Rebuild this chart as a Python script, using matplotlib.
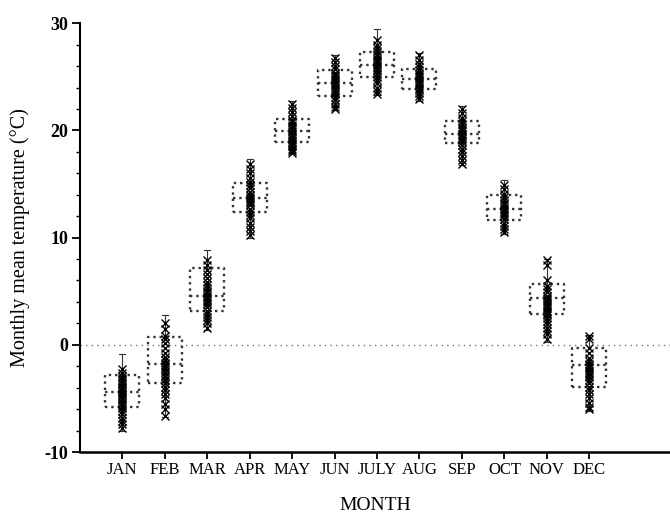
import matplotlib
matplotlib.use("Agg")
import matplotlib.pyplot as plt
from matplotlib.ticker import MultipleLocator

months = ["JAN", "FEB", "MAR", "APR", "MAY", "JUN", "JULY", "AUG", "SEP", "OCT", "NOV", "DEC"]

q1 = [-5.8, -3.6, 3.2, 12.4, 18.9, 23.2, 25.0, 23.9, 18.8, 11.6, 2.9, -3.9]
med = [-4.4, -1.8, 4.6, 13.7, 19.9, 24.4, 26.1, 24.8, 19.7, 12.7, 4.4, -1.9]
q3 = [-2.8, 0.7, 7.2, 15.1, 21.1, 25.6, 27.3, 25.7, 20.9, 14.0, 5.7, -0.3]
whis_lo = [-8.0, -6.7, 1.4, 10.0, 17.9, 21.9, 23.3, 22.7, 16.8, 10.3, 0.3, -6.2]
whis_hi = [-0.9, 2.8, 8.8, 17.3, 22.7, 27.0, 29.5, 27.2, 22.3, 15.4, 8.0, 0.9]

pts_jan = [-2.3, -2.6, -2.9, -3.1, -3.3, -3.5, -3.7, -3.9, -4.0, -4.2, -4.3, -4.5, -4.6,
           -4.8, -5.0, -5.1, -5.3, -5.5, -5.7, -5.9, -6.2, -6.5, -6.8, -7.1, -7.4, -7.8]
pts_feb = [2.0, 1.5, 0.8, 0.5, 0.2, -0.3, -0.8, -1.1, -1.4, -1.7, -1.9, -2.1, -2.3, -2.5,
           -2.8, -3.0, -3.3, -3.6, -3.9, -4.2, -4.6, -5.0, -5.5, -6.0, -6.6]
pts_mar = [7.9, 7.4, 7.0, 6.6, 6.2, 5.9, 5.6, 5.3, 5.0, 4.8, 4.6, 4.4, 4.2, 4.0, 3.8, 3.5,
           3.2, 2.9, 2.6, 2.3, 2.0, 1.6]
pts_apr = [16.9, 16.4, 16.0, 15.6, 15.2, 14.9, 14.6, 14.3, 14.0, 13.8, 13.6, 13.4, 13.2,
           13.0, 12.7, 12.4, 12.1, 11.8, 11.4, 11.0, 10.6, 10.2]
pts_may = [22.5, 22.1, 21.7, 21.3, 21.0, 20.8, 20.5, 20.3, 20.1, 19.9, 19.7, 19.5, 19.3,
           19.1, 18.9, 18.7, 18.5, 18.3, 18.1, 17.9]
pts_jun = [26.8, 26.4, 26.0, 25.7, 25.4, 25.2, 25.0, 24.8, 24.6, 24.4, 24.2, 24.0, 23.8,
           23.6, 23.4, 23.1, 22.8, 22.5, 22.2, 22.0]
pts_jul = [28.4, 28.0, 27.7, 27.4, 27.1, 26.9, 26.7, 26.5, 26.3, 26.1, 25.9, 25.7, 25.5,
           25.3, 25.0, 24.7, 24.4, 24.0, 23.7, 23.4]
pts_aug = [27.0, 26.6, 26.2, 25.9, 25.6, 25.4, 25.2, 25.0, 24.8, 24.6, 24.4, 24.2, 24.0,
           23.8, 23.5, 23.2, 22.9]
pts_sep = [22.0, 21.6, 21.2, 20.9, 20.6, 20.3, 20.1, 19.9, 19.7, 19.5, 19.3, 19.1, 18.9,
           18.6, 18.3, 18.0, 17.6, 17.2, 16.9]
pts_oct = [14.9, 14.5, 14.1, 13.8, 13.5, 13.2, 13.0, 12.8, 12.6, 12.4, 12.2, 12.0, 11.7,
           11.4, 11.1, 10.8, 10.5]
pts_nov = [7.9, 7.4, 6.0, 5.5, 5.2, 4.9, 4.6, 4.4, 4.2, 4.0, 3.8, 3.6, 3.4, 3.2, 3.0, 2.8,
           2.5, 2.2, 1.9, 1.6, 1.3, 1.0, 0.5]
pts_dec = [0.8, 0.5, -0.3, -0.8, -1.2, -1.5, -1.8, -2.0, -2.2, -2.4, -2.6, -2.8, -3.0, -3.3,
           -3.6, -3.9, -4.2, -4.6, -5.0, -5.4, -5.8, -6.0]
points = [pts_jan, pts_feb, pts_mar, pts_apr, pts_may, pts_jun, pts_jul, pts_aug,
          pts_sep, pts_oct, pts_nov, pts_dec]

plt.rcParams['font.family'] = ['Liberation Serif', 'DejaVu Serif']
plt.rcParams['axes.unicode_minus'] = False

fig = plt.figure(figsize=(6.7, 5.16), dpi=100)
ax = fig.add_axes([0.119, 0.124, 0.881, 0.831])

stats = []
for i in range(len(months)):
    stats.append(dict(med=med[i], q1=q1[i], q3=q3[i], whislo=whis_lo[i],
                      whishi=whis_hi[i], label=months[i]))
positions = list(range(1, len(months) + 1))

ax.axhline(0, color='#777777', linestyle=(0, (1, 3)), linewidth=1.0, zorder=1)

ax.bxp(stats, positions=positions, widths=0.8, showfliers=False, patch_artist=False,
       boxprops=dict(color='#333333', linestyle=':', linewidth=1.7),
       medianprops=dict(color='#333333', linestyle=':', linewidth=1.7),
       whiskerprops=dict(color='#333333', linestyle='-', linewidth=0.8),
       capprops=dict(color='#333333', linestyle='-', linewidth=0.8),
       capwidths=0.14, zorder=2)

for i, vals in enumerate(points):
    ax.plot([positions[i]] * len(vals), vals, linestyle='none', marker='x',
            markersize=6, markeredgewidth=1.0, color='black', zorder=3)

ax.set_xlim(0, 13.9)
ax.set_ylim(-10, 30)
ax.set_xticks(positions)
ax.set_xticklabels(months)
ax.yaxis.set_major_locator(MultipleLocator(10))
ax.yaxis.set_minor_locator(MultipleLocator(2))
ax.spines['top'].set_visible(False)
ax.spines['right'].set_visible(False)
ax.spines['left'].set_linewidth(1.5)
ax.spines['bottom'].set_linewidth(1.8)
ax.tick_params(axis='x', which='major', direction='out', length=5, width=1.3,
               labelsize=12, colors='black', pad=2)
ax.tick_params(axis='y', which='major', direction='out', length=6, width=1.3,
               labelsize=13, colors='black', pad=2)
ax.tick_params(axis='y', which='minor', direction='out', length=3, width=1.0)
for lbl in ax.get_yticklabels():
    lbl.set_fontweight('bold')

ax.set_xlabel('MONTH', fontsize=14, labelpad=14)
ax.set_ylabel('Monthly mean temperature (\u00b0C)', fontsize=14.5, labelpad=11)

fig.savefig('out.png', dpi=100)
